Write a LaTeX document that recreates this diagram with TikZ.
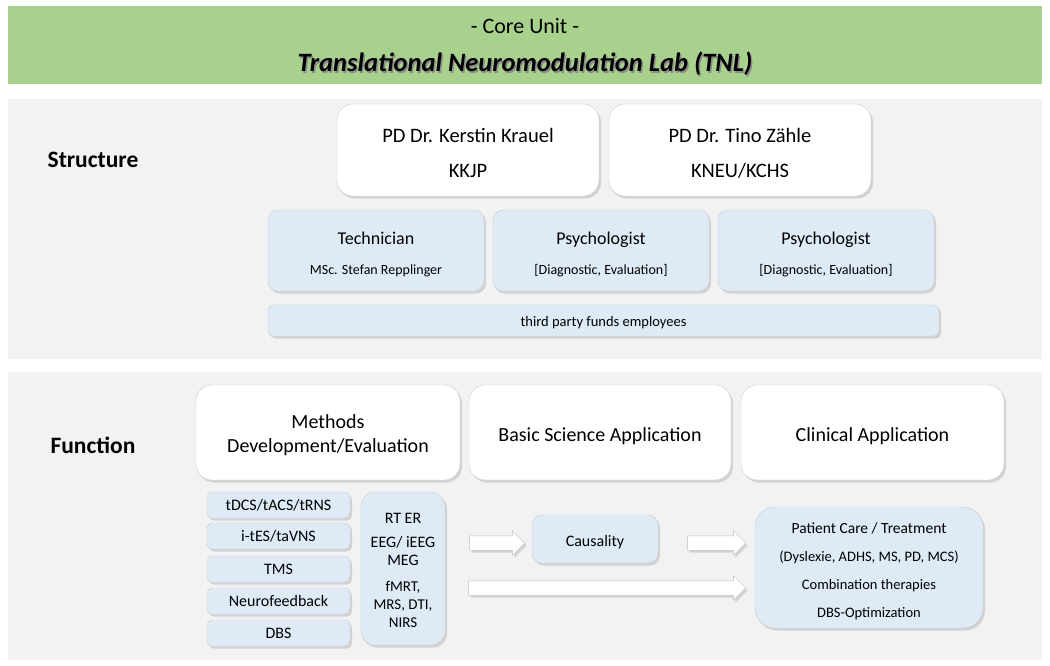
\documentclass[tikz,border=0pt]{standalone}
\usepackage{fontspec}
\setmainfont{Carlito}
\usetikzlibrary{calc}
\usetikzlibrary{shadows}
\usetikzlibrary{shapes.arrows}
\definecolor{bandgreen}{HTML}{A9D18E}
\definecolor{panelgray}{HTML}{F2F2F2}
\definecolor{boxblue}{HTML}{DEEBF7}
\newcommand{\fsz}[2]{\fontsize{#1}{#2}\selectfont}
\newcommand{\lift}[1]{\rule{0pt}{#1}}

\tikzset{
  panel/.style={fill=panelgray, draw=none},
  topstrut/.style={execute at begin node={\lift{#1}}},
  shadowed/.style={drop shadow={shadow xshift=2pt,shadow yshift=-2.5pt,opacity=.28}},
  whitebox/.style={shadowed, draw=black!20, fill=white, rounded corners=16pt, align=center, inner sep=0pt},
  bluebox/.style={shadowed, draw=black!20, fill=boxblue, rounded corners=10pt, align=center, inner sep=0pt},
  staffbox/.style={bluebox, minimum width=216pt, minimum height=81pt, font=\fsz{18}{30}},
  smallbox/.style={bluebox, rounded corners=5pt, minimum width=143pt, minimum height=26pt, font=\fsz{16}{19}},
  blockarrow/.style={shadowed, single arrow, draw=black!25, fill=white, inner sep=7pt,
    single arrow head extend=5pt, shape border rotate=0},
  rowlabel/.style={font=\fsz{23.5}{28}\bfseries}
}

\begin{document}
\begin{tikzpicture}[x=1pt,y=-1pt]
\useasboundingbox (0,0) rectangle (1050,665);
% bands
\fill[bandgreen] (8,6) rectangle (1042,84);
\fill[panelgray] (8,99) rectangle (1042,359);
\fill[panelgray] (8,372) rectangle (1042,660);
\node[font=\fsz{22}{26}] (core) at (525,26) {- Core Unit -};
\node[font=\fsz{26.5}{30}\bfseries\itshape, text=black!45] (titleshade) at (526.5,65.5) {Translational Neuromodulation Lab (TNL)};
\node[font=\fsz{26.5}{30}\bfseries\itshape] (title) at (525,64) {Translational Neuromodulation Lab (TNL)};

% structure
\node[rowlabel] (structure) at (93,160) {Structure};
\node[whitebox, minimum width=262pt, minimum height=92pt, font=\fsz{20.5}{35}] (krauel) at (468,150) {\lift{21pt}PD Dr. Kerstin Krauel\\KKJP};
\node[whitebox, minimum width=262pt, minimum height=92pt, font=\fsz{20.5}{35}] (zaehle) at (740,150) {\lift{21pt}PD Dr. Tino Zähle\\KNEU/KCHS};
\node[staffbox] (tech) at (376,250.5)
  {\lift{21pt}Technician\\{\fsz{14}{30}MSc. Stefan Repplinger}};
\node[staffbox] (psychA) at (601,250.5)
  {\lift{21pt}Psychologist\\{\fsz{14}{30}[Diagnostic, Evaluation]}};
\node[staffbox] (psychB) at (826,250.5)
  {\lift{21pt}Psychologist\\{\fsz{14}{30}[Diagnostic, Evaluation]}};
\node[bluebox, rounded corners=5pt, minimum width=671pt, minimum height=31pt, font=\fsz{14.5}{17}, topstrut=14.5pt] (thirdparty) at (603.5,320.5) {third party funds employees};

% function
\node[rowlabel] (function) at (93,445) {Function};
\node[whitebox, minimum width=264pt, minimum height=95pt, font=\fsz{20}{24}] (methods) at (328,432.5) {\lift{20pt}Methods\\Development/Evaluation};
\node[whitebox, minimum width=262pt, minimum height=95pt, font=\fsz{20}{24}, topstrut=21pt] (basic) at (600,432.5) {Basic Science Application};
\node[whitebox, minimum width=263pt, minimum height=95pt, font=\fsz{20}{24}, topstrut=21pt] (clinical) at (872.5,432.5) {Clinical Application};

\node[smallbox] (tdcs) at (278.5,505) {tDCS/tACS/tRNS};
\node[smallbox] (ites) at (278.5,536) {i-tES/taVNS};
\node[smallbox] (tms) at (278.5,569) {TMS};
\node[smallbox] (nfb) at (278.5,601) {Neurofeedback};
\node[smallbox] (dbs) at (278.5,633) {DBS};
\node[bluebox, rounded corners=14pt, minimum width=84pt, minimum height=153pt, font=\fsz{16}{18}] (imaging) at (403,568.5)
  {\lift{14.5pt}RT ER\\[6pt]EEG/ iEEG\\MEG\\[8pt]{\fsz{15}{18}fMRT,}\\{\fsz{15}{16}MRS, DTI,}\\{\fsz{15}{16}NIRS}};

\node[bluebox, minimum width=126pt, minimum height=48pt, font=\fsz{16}{19}, topstrut=17.5pt] (causal) at (595,539) {Causality};
\node[bluebox, rounded corners=20pt, minimum width=228pt, minimum height=121pt, font=\fsz{14.5}{28}] (patient) at (869,567.5)
  {{\fsz{15.5}{28}\lift{19pt}Patient Care / Treatment}\\(Dyslexie, ADHS, MS, PD, MCS)\\Combination therapies\\DBS-Optimization};

\node[blockarrow, minimum height=55pt] (arrA) at (493.5,543) {};
\node[blockarrow, minimum height=58pt] (arrB) at (713,543) {};
\node[blockarrow, minimum height=277pt] (arrC) at (603.5,588) {};
\end{tikzpicture}
\end{document}
